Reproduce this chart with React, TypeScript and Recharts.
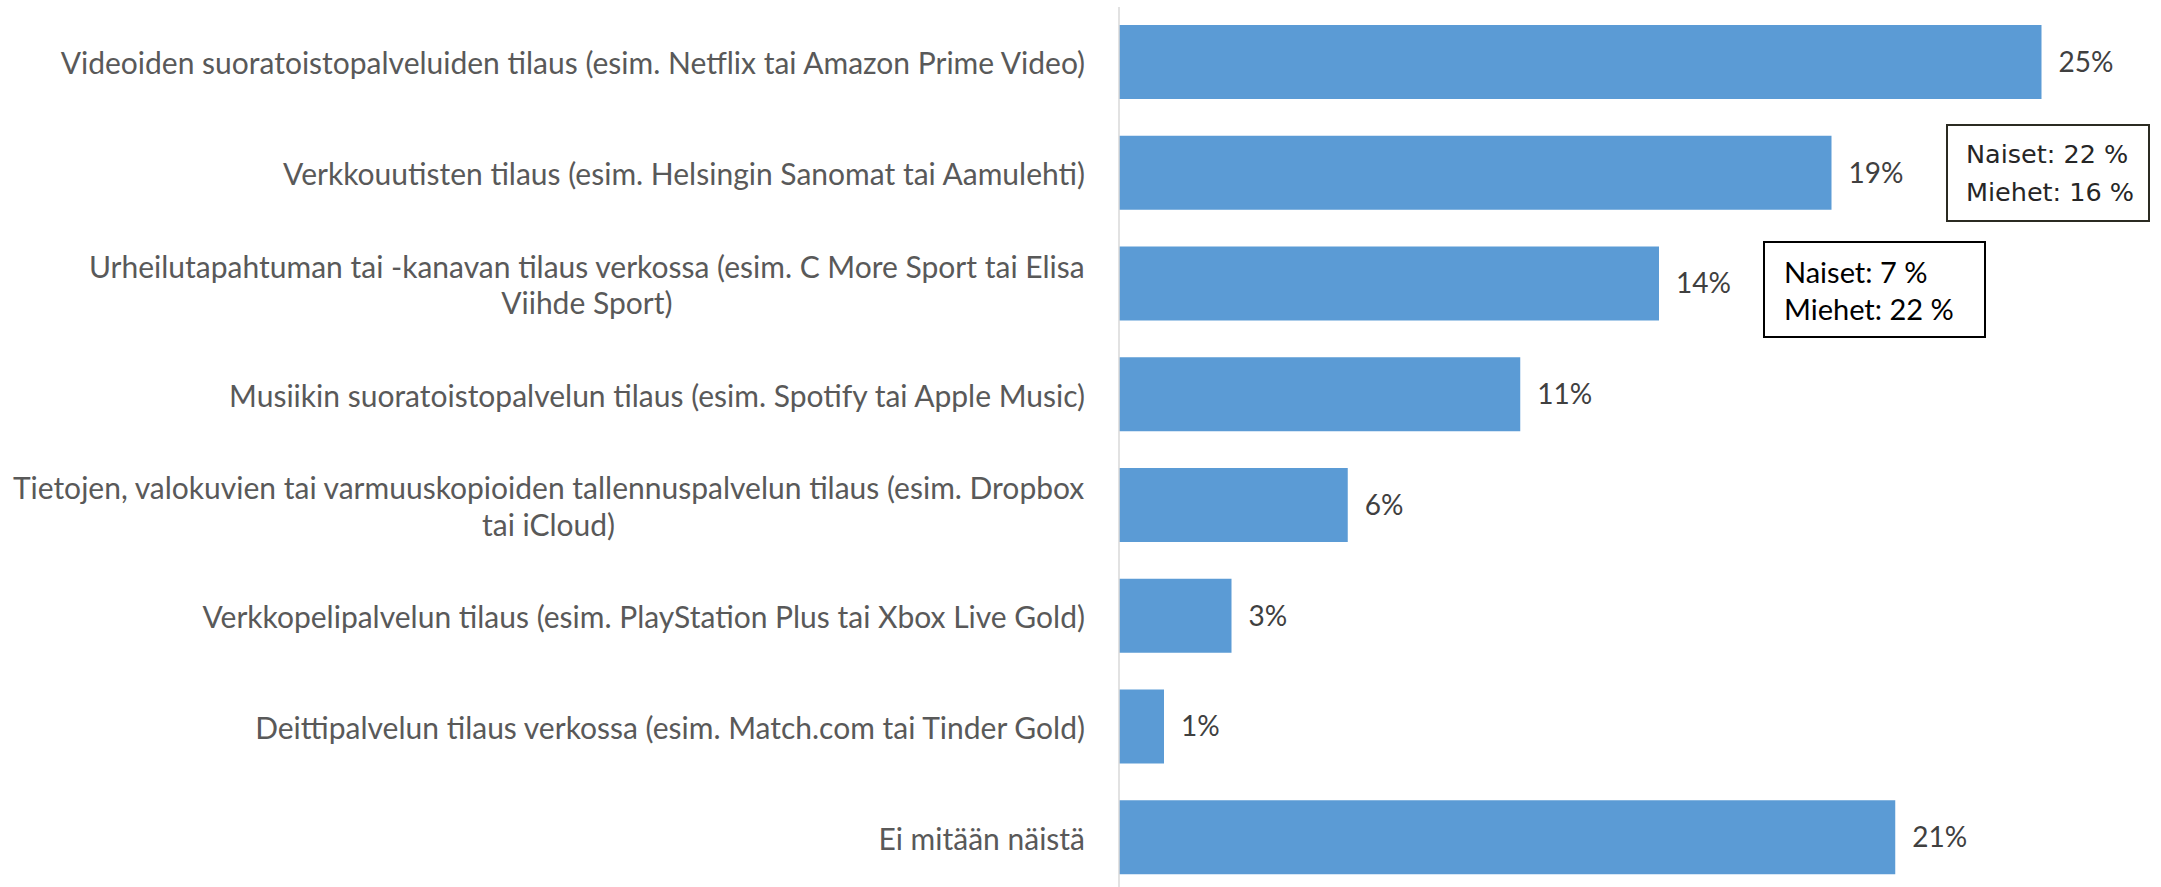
import React from 'react';
import { BarChart, Bar, XAxis, YAxis, LabelList } from 'recharts';

const categories: string[] = [
  'Videoiden suoratoistopalveluiden tilaus (esim. Netflix tai Amazon Prime Video)',
  'Verkkouutisten tilaus (esim. Helsingin Sanomat tai Aamulehti)',
  'Urheilutapahtuman tai -kanavan tilaus verkossa (esim. C More Sport tai Elisa\nViihde Sport)',
  'Musiikin suoratoistopalvelun tilaus (esim. Spotify tai Apple Music)',
  'Tietojen, valokuvien tai varmuuskopioiden tallennuspalvelun tilaus (esim. Dropbox\ntai iCloud)',
  'Verkkopelipalvelun tilaus (esim. PlayStation Plus tai Xbox Live Gold)',
  'Deittipalvelun tilaus verkossa (esim. Match.com tai Tinder Gold)',
  'Ei mitään näistä',
];

const values: number[] = [24.6, 19.0, 14.4, 10.7, 6.1, 3.0, 1.2, 20.7];

const noteVideo: string[] = ['Naiset: 22 %', 'Miehet: 16 %'];
const noteSport: string[] = ['Naiset: 7 %', 'Miehet: 22 %'];

const data = categories.map((name, i) => ({ name, value: values[i] }));

const LABEL_FONT = 'Lato, "Open Sans", sans-serif';
const LABEL_SIZE = 30;

let canvasEl: HTMLCanvasElement | null = null;
function measure(text: string, font: string): number {
  if (typeof document === 'undefined') return text.length * 12;
  if (!canvasEl) canvasEl = document.createElement('canvas');
  const ctx = canvasEl.getContext('2d');
  if (!ctx) return text.length * 12;
  ctx.font = font;
  return ctx.measureText(text).width;
}

const CatTick = (props: any) => {
  const { x, y, payload } = props;
  const lines: string[] = String(payload.value).split('\n');
  const lineH = 36.7;
  const font = `${LABEL_SIZE}px Lato`;
  if (lines.length === 1) {
    return (
      <text x={x} y={y} textAnchor="end" dominantBaseline="central" fill="#595959" fontSize={LABEL_SIZE} fontFamily={LABEL_FONT}>
        {lines[0]}
      </text>
    );
  }
  const widths = lines.map((l) => measure(l, font));
  const blockW = Math.max(...widths);
  const cx = x - blockW / 2;
  return (
    <g>
      {lines.map((l, i) => (
        <text key={i} x={cx} y={y + (i - (lines.length - 1) / 2) * lineH} textAnchor="middle" dominantBaseline="central" fill="#595959" fontSize={LABEL_SIZE} fontFamily={LABEL_FONT}>
          {l}
        </text>
      ))}
    </g>
  );
};

const boxBase: React.CSSProperties = {
  position: 'absolute',
  boxSizing: 'border-box',
  background: '#ffffff',
  display: 'flex',
  flexDirection: 'column',
  justifyContent: 'center',
};

export default function App() {
  return (
    <div style={{ position: 'fixed', left: 0, top: 0, width: 2161, height: 887, overflow: 'hidden', background: '#ffffff' }}>
      <BarChart
        width={2161}
        height={893}
        data={data}
        layout="vertical"
        margin={{ top: 7, right: 29.5, bottom: 0, left: 0 }}
        barSize={74}
      >
        <XAxis type="number" domain={[0, 27]} hide />
        <YAxis
          type="category"
          dataKey="name"
          width={1119}
          axisLine={{ stroke: '#d9d9d9', strokeWidth: 1.5 }}
          tickLine={false}
          tickSize={0}
          tickMargin={34}
          interval={0}
          tick={(p: any) => <CatTick {...p} />}
        />
        <Bar dataKey="value" fill="#5B9BD5" isAnimationActive={false}>
          <LabelList
            dataKey="value"
            position="right"
            offset={17}
            formatter={(v: any) => `${Math.round(Number(v))}%`}
            fill="#404040"
            fontSize={28}
            fontFamily={LABEL_FONT}
          />
        </Bar>
      </BarChart>
      <div
        style={{
          ...boxBase,
          left: 1946,
          top: 124,
          width: 204,
          height: 98,
          border: '2px solid #2b2b22',
          paddingLeft: 18,
          fontFamily: '"DejaVu Sans", Lato, sans-serif',
          fontSize: 25.5,
          lineHeight: '38px',
          color: '#262626',
          whiteSpace: 'nowrap',
        }}
      >
        {noteVideo.map((t, i) => (
          <div key={i}>{t}</div>
        ))}
      </div>
      <div
        style={{
          ...boxBase,
          left: 1763,
          top: 241,
          width: 223,
          height: 97,
          border: '2px solid #000000',
          paddingLeft: 19,
          fontFamily: LABEL_FONT,
          fontSize: 29,
          lineHeight: '37px',
          color: '#000000',
          whiteSpace: 'nowrap',
        }}
      >
        {noteSport.map((t, i) => (
          <div key={i}>{t}</div>
        ))}
      </div>
    </div>
  );
}
